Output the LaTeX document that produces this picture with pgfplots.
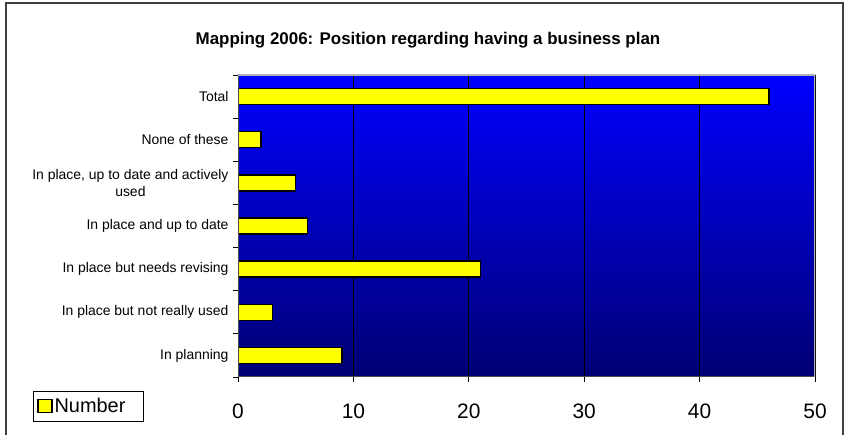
\documentclass[border=0pt]{standalone}
\usepackage{pgfplots}
\pgfplotsset{compat=1.18}
\usepackage{fontspec}
\setmainfont{Liberation Sans}
\definecolor{bartop}{RGB}{0,0,255}
\definecolor{barbot}{RGB}{0,0,115}
\definecolor{byellow}{RGB}{255,255,0}
\begin{document}
\begin{tikzpicture}[x=1bp,y=1bp]
\useasboundingbox (0,0) rectangle (846,435);
\fill[white] (0,0) rectangle (846,435);
\draw[line width=2bp,black!75] (5.5,-2) -- (5.5,431.5) -- (843,431.5) -- (843,-2);
\node[font=\fontsize{17}{19}\selectfont\bfseries] at (428,395) {Mapping 2006: Position regarding having a business plan};
\begin{axis}[
  at={(238bp,58bp)}, anchor=south west,
  scale only axis, width=577bp, height=302bp,
  xbar, bar width=16bp,
  xmin=0, xmax=50, ymin=-0.5, ymax=6.5,
  xtick={0,10,20,30,40,50},
  ytick={0,...,6},
  yticklabels={In planning,In place but not really used,In place but needs revising,In place and up to date,{In place, up to date and actively\\used},None of these,Total},
  minor ytick={-0.5,0.5,...,6.5},
  major y tick style={draw=none},
  minor tick length=5bp,
  major tick length=5bp,
  tick align=outside,
  xtick pos=bottom, ytick pos=left,
  tick style={black, line width=0.8bp},
  xmajorgrids, major grid style={black, line width=1bp},
  axis line style={draw=none},
  axis background/.style={shade, top color=bartop, bottom color=barbot},
  yticklabel style={font=\fontsize{14}{17}\selectfont, align=center, xshift=-1bp},
  xticklabel style={font=\fontsize{21}{23}\selectfont, yshift=-18bp},
  /pgf/number format/assume math mode=true,
  legend style={at={(-0.3553,-0.097)}, anchor=west, draw=black, line width=0.8bp,
     font=\fontsize{20}{22}\selectfont, inner xsep=4bp, inner ysep=5bp, row sep=0pt,
     legend cell align=left},
  legend image code/.code={\draw[#1, line width=1.2bp] (0bp,-6.5bp) rectangle (14bp,6.5bp);},
]
\addplot[fill=byellow, draw=black, line width=1.4bp] coordinates {(9,0) (3,1) (21,2) (6,3) (5,4) (2,5) (46,6)};
\addlegendentry{Number\hspace*{12bp}}
\draw[black!70, line width=1.5bp] (axis cs:0,-0.5) -- (axis cs:50,-0.5);
\draw[black!70, line width=1.5bp] (axis cs:0,-0.5) -- (axis cs:0,6.5);
\draw[black!30, line width=1.5bp] (axis cs:0,6.5) -- (axis cs:50,6.5) -- (axis cs:50,-0.5);
\end{axis}
\end{tikzpicture}
\end{document}
